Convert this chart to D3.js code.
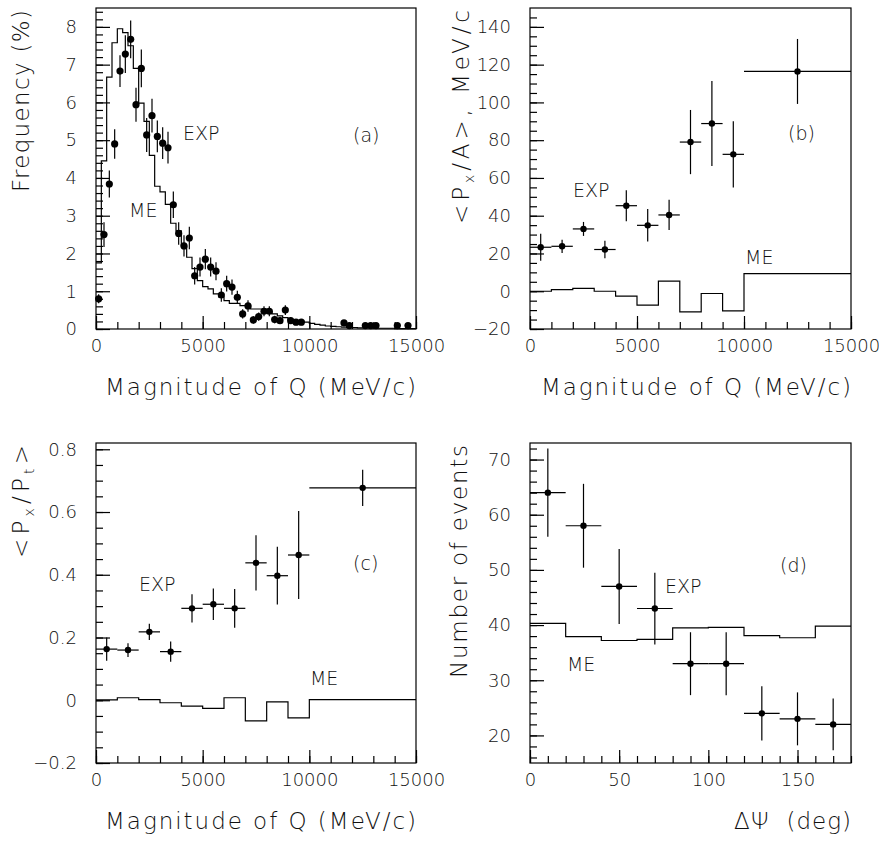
<!DOCTYPE html>
<html>
<head>
<meta charset="utf-8">
<script src="https://cdn.jsdelivr.net/npm/d3@7"></script>
<style>
  body { margin: 0; background: #fff; }
  svg { font-family: 'DejaVu Sans', sans-serif; font-weight: 200; }
  text { fill: #111; }
</style>
</head>
<body>
<svg width="879" height="841"></svg>
<script>
(function (d3) {
  'use strict';

  // ---- (a) frequency of |Q|, 250 MeV/c bins ----
  const aExpQ = [125, 375, 625, 875, 1125, 1375, 1625, 1875, 2125, 2375, 2625, 2875,
    3125, 3375, 3625, 3875, 4125, 4375, 4625, 4875, 5125, 5375, 5625, 5875, 6125,
    6375, 6625, 6875, 7125, 7375, 7625, 7875, 8125, 8375, 8625, 8875, 9125, 9375,
    9625, 11625, 11875, 12625, 12875, 13125, 14125, 14625];
  const aExpFreq = [0.8, 2.5, 3.84, 4.9, 6.83, 7.28, 7.67, 5.94, 6.9, 5.14, 5.65, 5.1,
    4.92, 4.8, 3.29, 2.53, 2.2, 2.41, 1.41, 1.64, 1.85, 1.64, 1.53, 0.9, 1.2,
    1.11, 0.84, 0.4, 0.61, 0.24, 0.33, 0.47, 0.47, 0.25, 0.22, 0.5, 0.22, 0.18,
    0.18, 0.16, 0.09, 0.09, 0.09, 0.09, 0.09, 0.09];
  const aExpErr = [0.12, 0.33, 0.36, 0.39, 0.42, 0.5, 0.5, 0.45, 0.5, 0.45, 0.45, 0.42,
    0.42, 0.42, 0.35, 0.3, 0.28, 0.3, 0.23, 0.25, 0.27, 0.25, 0.24, 0.18, 0.21,
    0.2, 0.17, 0.12, 0.15, 0.1, 0.11, 0.13, 0.13, 0.1, 0.09, 0.13, 0.09, 0.08,
    0.08, 0.08, 0.06, 0.06, 0.06, 0.06, 0.06, 0.06];
  const aMeFreq = [1.75, 4.45, 6.67, 7.58, 7.95, 7.85, 7.5, 6.9, 5.98, 5.5, 4.6, 3.78,
    3.63, 3.3, 2.8, 2.6, 2.2, 1.9, 1.6, 1.28, 1.12, 1.06, 0.93, 0.85, 0.75,
    0.68, 0.68, 0.62, 0.62, 0.53, 0.53, 0.53, 0.45, 0.4, 0.35, 0.3, 0.25, 0.22,
    0.2, 0.18, 0.15, 0.12, 0.1, 0.08, 0.07, 0.06, 0.05, 0.04, 0.04, 0.03,
    0.03, 0.03, 0.02, 0.02, 0.02, 0.02, 0.01, 0.01, 0.01, 0.01];
  const aMeEdges = d3.range(0, 15001, 250);

  // ---- (b), (c) : bins in |Q| ----
  const qEdges = [0, 1000, 2000, 3000, 4000, 5000, 6000, 7000, 8000, 9000, 10000, 15000];
  const bExp = [23.3, 23.8, 33, 22.1, 45.3, 34.9, 40.4, 79, 88.8, 72.5, 116.4];
  const bErr = [7.2, 3.5, 3.7, 4.6, 8.2, 8.6, 8, 17, 22.5, 17.5, 17.2];
  const bMe = [0, 0.9, 1.5, 0, -2.6, -7.4, 5.4, -10.9, -1.2, -10.4, 9.3];

  const cExp = [0.163, 0.16, 0.218, 0.155, 0.293, 0.306, 0.293, 0.438, 0.397, 0.463, 0.677];
  const cErr = [0.037, 0.022, 0.026, 0.032, 0.045, 0.05, 0.062, 0.088, 0.092, 0.14, 0.058];
  const cMe = [0.001, 0.008, 0.002, -0.008, -0.019, -0.026, 0.008, -0.066, -0.005, -0.056, 0.002];

  // ---- (d) : bins in delta psi ----
  const psiEdges = [0, 20, 40, 60, 80, 100, 120, 140, 160, 180];
  const dExp = [64, 58, 47, 43, 33, 33, 24, 23, 22];
  const dErr = [8, 7.6, 6.8, 6.5, 5.7, 5.7, 4.9, 4.8, 4.7];
  const dMe = [40.3, 37.9, 37.2, 37.4, 39.5, 39.6, 38.1, 37.7, 39.8];

  const qMajor = [0, 5000, 10000, 15000];
  const qMinor = d3.range(0, 15001, 1000);
  const qTitle = 'Magnitude of Q (MeV/c)';

  // HIGZ style: no trailing zeros, long minus
  const fmt = v => String(+v.toFixed(2)).replace('-', '\u2212');

  const svg = d3.select('svg');

  const toBins = (edges, values, errs) => values.map((v, i) => ({
    lo: edges[i], hi: edges[i + 1], x: (edges[i] + edges[i + 1]) / 2, y: v, e: errs[i]
  }));

  const panel = (selection, props) => {
    const {
      left, top, width, height,
      xDomain, yDomain, xMajor, xMinor, yMajor, yMinor,
      xTitle, xTitleLength, yTitle, yTitleLength, yTitleX,
      meEdges, meValues, exp, dotRadius, notes
    } = props;

    const xScale = d3.scaleLinear().domain(xDomain).range([0, width]);
    const yScale = d3.scaleLinear().domain(yDomain).range([height, 0]);

    const g = selection.append('g')
      .attr('transform', `translate(${left},${top})`);

    // inward ticks
    g.append('g')
      .attr('transform', `translate(0,${height})`)
      .call(d3.axisBottom(xScale).tickValues(xMinor).tickSize(-7).tickFormat(''));
    g.append('g')
      .attr('class', 'x-axis')
      .attr('transform', `translate(0,${height})`)
      .call(d3.axisBottom(xScale).tickValues(xMajor).tickSize(-13).tickPadding(10).tickFormat(fmt));
    g.append('g')
      .call(d3.axisLeft(yScale).tickValues(yMinor).tickSize(-7).tickFormat(''));
    g.append('g')
      .attr('class', 'y-axis')
      .call(d3.axisLeft(yScale).tickValues(yMajor).tickSize(-14).tickPadding(19).tickFormat(fmt));

    g.selectAll('.domain').remove();
    g.selectAll('.tick line').attr('stroke', '#000').attr('stroke-width', 1.2);
    g.selectAll('.tick text')
      .attr('fill', '#111')
      .style('font-family', "'DejaVu Sans', sans-serif")
      .style('font-weight', 200)
      .style('font-size', '18px');

    // ME histogram
    const steps = meValues.map((v, i) => [meEdges[i], v]);
    steps.push([meEdges[meEdges.length - 1], meValues[meValues.length - 1]]);
    g.append('path')
      .datum(steps)
      .attr('fill', 'none')
      .attr('stroke', '#000')
      .attr('stroke-width', 1.2)
      .attr('d', d3.line()
        .x(d => xScale(d[0]))
        .y(d => yScale(d[1]))
        .curve(d3.curveStepAfter));

    // EXP points with error bars
    const pts = g.append('g').selectAll('g').data(exp).enter().append('g');
    pts.append('line')
      .attr('x1', d => xScale(d.x)).attr('x2', d => xScale(d.x))
      .attr('y1', d => yScale(d.y - d.e)).attr('y2', d => yScale(d.y + d.e))
      .attr('stroke', '#000').attr('stroke-width', 1.2);
    pts.append('line')
      .attr('x1', d => xScale(d.lo)).attr('x2', d => xScale(d.hi))
      .attr('y1', d => yScale(d.y)).attr('y2', d => yScale(d.y))
      .attr('stroke', '#000').attr('stroke-width', 1.2);
    pts.append('circle')
      .attr('cx', d => xScale(d.x))
      .attr('cy', d => yScale(d.y))
      .attr('r', dotRadius)
      .attr('fill', '#000');

    // frame
    g.append('rect')
      .attr('width', width).attr('height', height)
      .attr('fill', 'none')
      .attr('stroke', '#000')
      .attr('stroke-width', 1.2);

    // in-plot labels
    g.selectAll('.note').data(notes).enter().append('text')
      .attr('class', 'note')
      .attr('x', d => xScale(d.x))
      .attr('y', d => yScale(d.y))
      .style('font-size', '19px')
      .text(d => d.text);

    // axis titles
    g.append('text')
      .attr('x', width)
      .attr('y', height + 66)
      .attr('text-anchor', 'end')
      .style('font-size', '23px')
      .style('white-space', 'pre')
      .attr('textLength', xTitleLength)
      .attr('lengthAdjust', 'spacing')
      .text(xTitle);

    const yt = g.append('text')
      .attr('transform', `translate(${yTitleX},2) rotate(-90)`)
      .attr('text-anchor', 'end')
      .attr('textLength', yTitleLength)
      .attr('lengthAdjust', 'spacing')
      .style('font-size', '23px');
    yTitle.forEach(seg => {
      yt.append('tspan')
        .attr('dy', seg.sub ? 5 : (seg.after ? -5 : 0))
        .style('font-size', seg.sub ? '14px' : '23px')
        .text(seg.t);
    });
  };

  svg.call(panel, {
    left: 96, top: 8, width: 320, height: 321,
    xDomain: [0, 15000], yDomain: [0, 8.5],
    xMajor: qMajor, xMinor: qMinor,
    yMajor: d3.range(0, 9), yMinor: d3.range(0, 8.5, 0.2),
    xTitle: qTitle, xTitleLength: 311,
    yTitle: [{ t: 'Frequency (%)' }], yTitleLength: 182, yTitleX: -67,
    meEdges: aMeEdges, meValues: aMeFreq,
    exp: aExpQ.map((q, i) => ({ lo: q - 125, hi: q + 125, x: q, y: aExpFreq[i], e: aExpErr[i] })),
    dotRadius: 3.6,
    notes: [
      { text: 'EXP', x: 4080, y: 5.0 },
      { text: 'ME', x: 1550, y: 2.97 },
      { text: '(a)', x: 12050, y: 4.95 }
    ]
  });

  svg.call(panel, {
    left: 530, top: 8, width: 321, height: 321,
    xDomain: [0, 15000], yDomain: [-20, 150],
    xMajor: qMajor, xMinor: qMinor,
    yMajor: d3.range(-20, 141, 20), yMinor: d3.range(-20, 150, 5),
    xTitle: qTitle, xTitleLength: 310,
    yTitle: [{ t: '<P' }, { t: 'x', sub: true }, { t: '/A>, MeV/c', after: true }],
    yTitleLength: 214, yTitleX: -61,
    meEdges: qEdges, meValues: bMe,
    exp: toBins(qEdges, bExp, bErr),
    dotRadius: 3.2,
    notes: [
      { text: 'EXP', x: 2010, y: 50 },
      { text: 'ME', x: 10050, y: 14.4 },
      { text: '(b)', x: 12060, y: 80 }
    ]
  });

  svg.call(panel, {
    left: 96, top: 443, width: 320, height: 320,
    xDomain: [0, 15000], yDomain: [-0.2, 0.82],
    xMajor: qMajor, xMinor: qMinor,
    yMajor: [-0.2, 0, 0.2, 0.4, 0.6, 0.8], yMinor: d3.range(-0.2, 0.82, 0.05),
    xTitle: qTitle, xTitleLength: 311,
    yTitle: [{ t: '<P' }, { t: 'x', sub: true }, { t: '/P', after: true }, { t: 't', sub: true }, { t: '>', after: true }],
    yTitleLength: 113, yTitleX: -67,
    meEdges: qEdges, meValues: cMe,
    exp: toBins(qEdges, cExp, cErr),
    dotRadius: 3.2,
    notes: [
      { text: 'EXP', x: 2020, y: 0.348 },
      { text: 'ME', x: 10030, y: 0.049 },
      { text: '(c)', x: 12050, y: 0.415 }
    ]
  });

  svg.call(panel, {
    left: 530, top: 443, width: 321, height: 320,
    xDomain: [0, 180], yDomain: [15, 73],
    xMajor: [0, 50, 100, 150], xMinor: d3.range(0, 181, 10),
    yMajor: d3.range(20, 71, 10), yMinor: d3.range(16, 73, 2),
    xTitle: '\u0394\u03a8  (deg)', xTitleLength: 117,
    yTitle: [{ t: 'Number of events' }], yTitleLength: 233, yTitleX: -63,
    meEdges: psiEdges, meValues: dMe,
    exp: toBins(psiEdges, dExp, dErr),
    dotRadius: 3.2,
    notes: [
      { text: 'EXP', x: 75.7, y: 45.8 },
      { text: 'ME', x: 20.7, y: 31.7 },
      { text: '(d)', x: 140.2, y: 49.6 }
    ]
  });

}(d3));
</script>
</body>
</html>
